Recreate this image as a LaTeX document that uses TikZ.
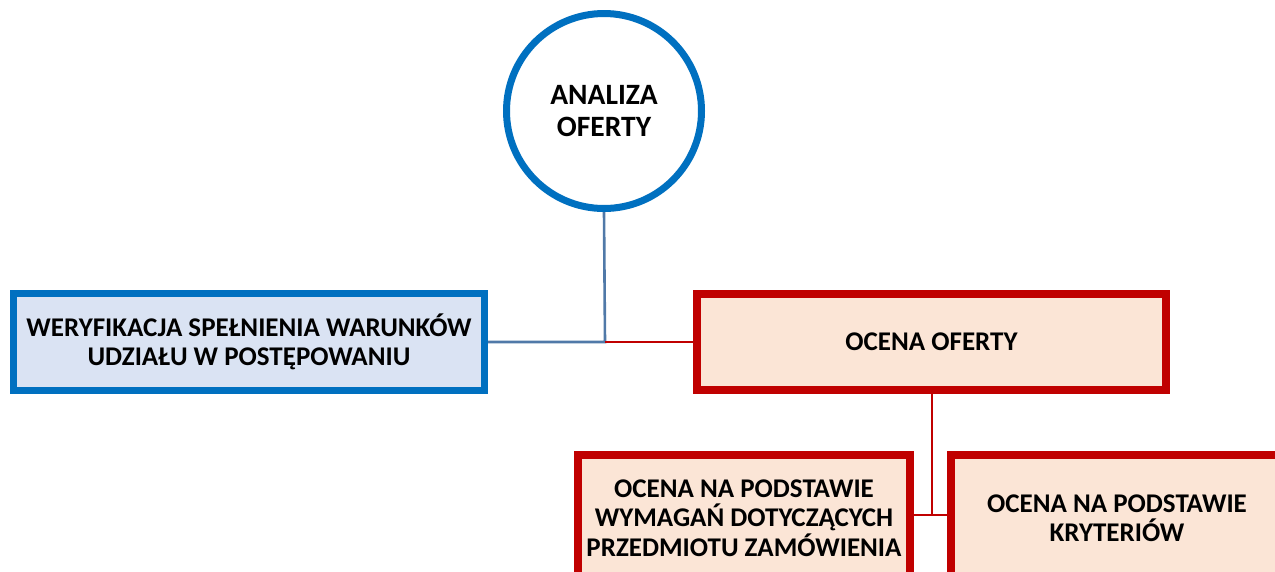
\documentclass[tikz,border=0pt]{standalone}
\usepackage{fontspec}
\setmainfont{Carlito}
\usetikzlibrary{backgrounds}
\definecolor{boxblue}{HTML}{0070C0}
\definecolor{boxbluefill}{HTML}{DAE3F3}
\definecolor{boxred}{HTML}{C00000}
\definecolor{boxredfill}{HTML}{FBE5D6}
\definecolor{linkblue}{HTML}{5079A8}
\tikzset{
  label text/.style={font=\fontsize{27}{29.5}\selectfont\bfseries, align=center, text=black},
  bluebox/.style={label text, draw=boxblue, fill=boxbluefill, line width=7pt, rectangle},
  redbox/.style={label text, draw=boxred, fill=boxredfill, line width=8pt, rectangle},
  hub/.style={label text, font=\fontsize{29.5}{32}\selectfont\bfseries, circle, draw=boxblue, fill=white, line width=7pt, minimum size=195pt, inner sep=0pt},
  bluelink/.style={draw=linkblue, line width=2.6pt},
  redlink/.style={draw=boxred, line width=2.6pt},
}
\begin{document}
\begin{tikzpicture}[x=1pt, y=-1pt]
  \useasboundingbox (0,0) rectangle (1275,571);
  \clip (0,0) rectangle (1275,571);

  % root of the tree
  \node[hub] (root) at (604,111) {ANALIZA\\OFERTY};

  % second level
  \node[bluebox, minimum width=471pt, minimum height=97pt] (verify) at (249,342)
    {WERYFIKACJA SPEŁNIENIA WARUNKÓW\\UDZIAŁU W POSTĘPOWANIU};
  \node[redbox, minimum width=469pt, minimum height=96pt] (rate) at (931.5,342)
    {OCENA OFERTY};

  % third level
  \node[redbox, minimum width=332pt, minimum height=126pt] (req) at (744,518)
    {OCENA NA PODSTAWIE\\WYMAGAŃ DOTYCZĄCYCH\\PRZEDMIOTU ZAMÓWIENIA};
  \node[redbox, minimum width=332pt, minimum height=126pt] (crit) at (1117,518)
    {OCENA NA PODSTAWIE\\KRYTERIÓW};

  \coordinate (split) at (605,342);
  \coordinate (fork) at (932,515);

  \begin{scope}[on background layer]
    \draw[bluelink] (root.south) -- (split) -- (verify.east |- split);
    \draw[redlink] (split) -- (rate.west |- split);
    \draw[redlink] (rate.south -| fork) -- (fork);
    \draw[redlink] (req.east |- fork) -- (crit.west |- fork);
  \end{scope}
\end{tikzpicture}
\end{document}
